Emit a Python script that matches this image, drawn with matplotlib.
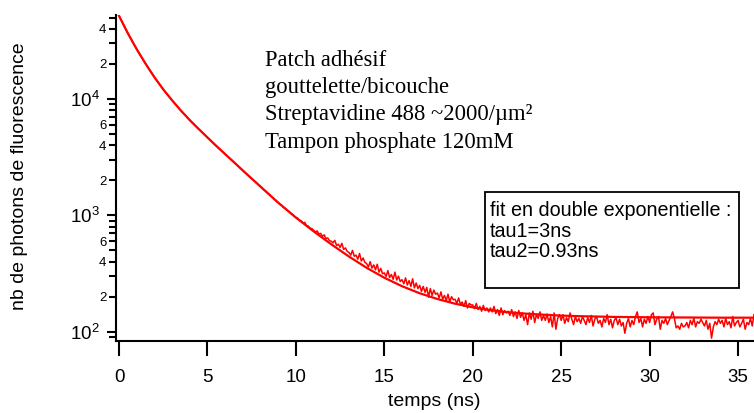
import numpy as np
import matplotlib
matplotlib.use("Agg")
import matplotlib.pyplot as plt
from matplotlib.ticker import FixedLocator, FixedFormatter
from matplotlib.patches import Rectangle

plt.rcParams['font.family'] = ['Liberation Sans', 'DejaVu Sans']

# ---------------- data ----------------
# smooth early part of the decay (ns, counts)
time_early = [0.0, 0.5, 1.0, 1.5, 2.0, 2.5, 3.0, 3.5, 4.0, 4.5, 5.0, 5.5, 6.0, 6.5, 7.0, 7.5]
counts_early = [51900, 36700, 26800, 20100, 15400, 12100, 9740, 7950, 6580, 5530,
                4670, 3950, 3360, 2860, 2430, 2070]

# noisy part, one value every 0.1 ns from 8.0 to 35.9 ns
time_noisy = np.arange(80, 360) / 10.0
counts_noisy = [
    1766, 1715, 1650, 1612, 1550, 1512, 1455, 1420, 1362, 1330,   # 8
    1290, 1245, 1220, 1170, 1150, 1105, 1085, 1040, 1025, 985,    # 9
    960, 945, 905, 900, 860, 870, 815, 810, 775, 770,             # 10
    745, 720, 735, 690, 700, 660, 680, 630, 640, 605,             # 11
    600, 580, 610, 550, 565, 530, 575, 510, 525, 490,             # 12
    480, 455, 500, 445, 455, 420, 470, 405, 430, 395,             # 13
    385, 360, 400, 352, 375, 340, 380, 325, 350, 315,             # 14
    320, 298, 335, 292, 310, 282, 325, 278, 300, 270,             # 15
    280, 258, 290, 252, 275, 245, 285, 238, 262, 235,             # 16
    250, 222, 245, 218, 240, 198, 235, 205, 228, 210,             # 17
    215, 195, 220, 190, 205, 185, 210, 180, 200, 188,             # 18
    190, 175, 195, 172, 180, 165, 185, 160, 175, 170,             # 19
    170, 158, 175, 155, 165, 150, 168, 152, 160, 148,             # 20
    160, 148, 165, 143, 155, 138, 160, 140, 152, 145,             # 21
    150, 138, 155, 135, 148, 130, 152, 133, 145, 125,             # 22
    140, 115, 145, 128, 150, 120, 140, 130, 148, 125,             # 23
    138, 125, 142, 120, 135, 110, 145, 105, 130, 140,             # 24
    125, 140, 118, 132, 122, 145, 128, 115, 135, 122,             # 25
    130, 118, 135, 125, 115, 132, 120, 138, 112, 128,             # 26
    135, 118, 125, 110, 130, 120, 140, 115, 128, 108,             # 27
    125, 132, 115, 128, 112, 120, 97, 118, 130, 110,              # 28
    125, 115, 135, 148, 120, 130, 110, 128, 118, 135,             # 29
    120, 140, 145, 115, 128, 135, 105, 125, 118, 130,             # 30
    115, 125, 135, 148, 130, 108, 112, 105, 118, 110,             # 31
    112, 120, 108, 125, 115, 130, 110, 122, 118, 128,             # 32
    120, 112, 125, 105, 118, 88, 110, 122, 115, 128,              # 33
    118, 125, 110, 130, 115, 122, 108, 135, 112, 120,             # 34
    125, 110, 118, 128, 105, 120, 115, 130, 112, 140,             # 35
]

# double-exponential fit curve
time_fit = [0.0, 0.5, 1.0, 1.5, 2.0, 2.5, 3.0, 3.5, 4.0, 4.5, 5.0, 5.5, 6.0, 6.5, 7.0, 7.5,
            8, 9, 10, 11, 12, 13, 14, 15, 16, 17, 18, 19, 20, 21, 22, 23, 24, 25, 26, 27,
            28, 30, 32, 34, 36]
counts_fit = [51900, 36700, 26800, 20100, 15400, 12100, 9740, 7950, 6580, 5530, 4670, 3950,
              3360, 2860, 2430, 2070, 1766, 1285, 957, 729, 564, 443, 354, 291, 246, 214,
              191, 174, 162, 153, 147, 143, 140, 137.5, 136, 135, 134, 133, 132.5, 132, 132]

x_ticks = [0, 5, 10, 15, 20, 25, 30, 35]
y_major = [1e2, 1e3, 1e4]
y_major_labels = [r'$\mathregular{10^{2}}$', r'$\mathregular{10^{3}}$', r'$\mathregular{10^{4}}$']

annotation_lines = ["Patch adhésif", "gouttelette/bicouche",
                    "Streptavidine 488 ~2000/µm²", "Tampon phosphate 120mM"]
fit_lines = ["fit en double exponentielle :", "tau1=3ns", "tau2=0.93ns"]

# ---------------- figure ----------------
W, H = 754, 413
fig = plt.figure(figsize=(W / 100, H / 100), dpi=100)
ax = fig.add_axes([116 / W, 72 / H, 638 / W, 326 / H])

time_data = np.concatenate([time_early, time_noisy])
counts_data = np.concatenate([counts_early, counts_noisy])

ax.plot(time_data, counts_data, color='#ff0000', lw=1.1)
ax.plot(time_fit, counts_fit, color='#ff0000', lw=1.6)

ax.set_yscale('log')
ax.set_xlim(-0.17, 35.9)
ax.set_ylim(83.2, 52700)

for s in ('top', 'right'):
    ax.spines[s].set_visible(False)
for s in ('left', 'bottom'):
    ax.spines[s].set_linewidth(1.5)

ax.set_xticks(x_ticks)
ax.set_xticklabels([str(v) for v in x_ticks])
ax.tick_params(axis='x', which='major', length=10.8, width=1.5, pad=9, labelsize=13.5)
ax.tick_params(axis='x', which='minor', bottom=False)

ax.yaxis.set_major_locator(FixedLocator(y_major))
ax.yaxis.set_major_formatter(FixedFormatter(y_major_labels))
minor_locs, minor_labels = [], []
for dec in [10, 100, 1000, 10000]:
    for k in range(2, 10):
        v = k * dec
        if 83.2 <= v <= 52700:
            minor_locs.append(v)
            minor_labels.append(str(k) if k in (2, 4, 6) else '')
ax.yaxis.set_minor_locator(FixedLocator(minor_locs))
ax.yaxis.set_minor_formatter(FixedFormatter(minor_labels))
ax.tick_params(axis='y', which='major', length=6.5, width=1.5, pad=5, labelsize=13.5)
ax.tick_params(axis='y', which='minor', length=5, width=1.5, pad=2, labelsize=9.5)

fig.text(434 / W, 1 - 402 / H, "temps (ns)", ha='center', va='center', fontsize=14)
fig.text(20 / W, 1 - 176 / H, "nb de photons de fluorescence", ha='center', va='center',
         rotation=90, fontsize=14)

# Times annotation
baselines = [66, 93, 120, 148]
for line, b in zip(annotation_lines, baselines):
    fig.text(265 / W, 1 - b / H, line, ha='left', va='baseline', fontsize=16.3,
             family=['Liberation Serif', 'DejaVu Serif'])

# fit box
box = Rectangle((485 / W, 1 - 288 / H), (739 - 485) / W, (288 - 192) / H,
                transform=fig.transFigure, fill=True, fc='white', ec='black', lw=1.3)
fig.patches.append(box)
for line, b in zip(fit_lines, [216, 237, 257]):
    fig.text(490 / W, 1 - b / H, line, ha='left', va='baseline', fontsize=14.2)

fig.savefig('out.png', dpi=100)
